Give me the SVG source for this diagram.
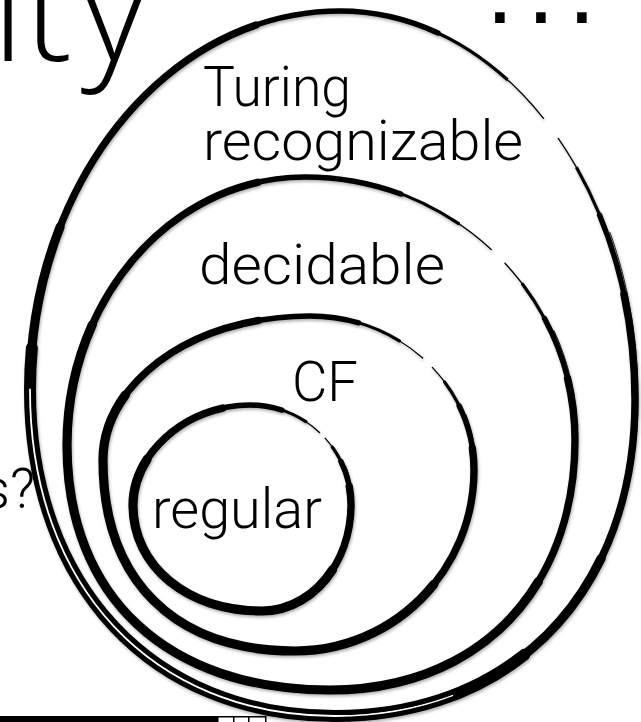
<svg xmlns="http://www.w3.org/2000/svg" width="641" height="722" viewBox="0 0 641 722">
  <style>
    .bg { fill: #ffffff; }
    .title { font-family: "Open Sans", "Liberation Sans", sans-serif; font-weight: 300; font-size: 143px; fill: #000; }
    .dots { font-family: "Liberation Sans", Arial, sans-serif; font-size: 100px; letter-spacing: 13.2px; fill: #000; }
    .lbl { font-family: Roboto, "Liberation Sans", sans-serif; font-weight: 300; font-size: 55px; fill: #000; }
    .loop use { fill: none; stroke: #000; stroke-linecap: round; stroke-linejoin: round; }
    .s1 { stroke-width: 1.3; stroke-dasharray: 98.8 1.2; stroke-dashoffset: -0.8; }
    .s2 { stroke-width: 3.2; stroke-dasharray: 94.5 5.5; stroke-dashoffset: -2.5; }
    .s3 { stroke-width: 5.4; stroke-dasharray: 88 12; stroke-dashoffset: -5; }
    .s4 { stroke-width: 7.4; stroke-dasharray: 75 25; stroke-dashoffset: -9; }
    .s5 { stroke-width: 9.2; stroke-dasharray: 48 52; stroke-dashoffset: -22; }
    .s6 { stroke-width: 12; stroke-dasharray: 36 64; stroke-dashoffset: -28; }
    .loop use.hair { stroke: #fff; stroke-width: 1.8; stroke-dasharray: 30 70; stroke-dashoffset: -32; }
    .loop use.bristle { stroke-width: 1; stroke-dasharray: 80 20; stroke-dashoffset: -6; opacity: 0.85; }
    .bar { fill: #000; }
    .box { fill: #fff; stroke: #000; stroke-width: 1.5; }
  </style>
  <defs>
    <filter id="shadow" x="-10%" y="-10%" width="120%" height="120%">
      <feDropShadow dx="1" dy="2" stdDeviation="1.5" flood-color="#000" flood-opacity="0.3"/>
    </filter>
    <path id="p-outer" pathLength="100" d="M548.6,125 C602,195.4 635,292.6 635,400 C635,589.6 515,716 335,716 C152,716 30,585.6 30,390 C30,180.7 168.8,11 340,11 C421.5,11 495.2,54.6 548.6,125"/>
    <path id="p-decidable" pathLength="100" d="M495.9,254 C544.8,301.6 575,367.4 575,440 C575,590 477,690 330,690 C166.9,690 67,596.9 67,445 C67,297 173.6,177 305,177 C379.6,177 447.1,206.4 495.9,254"/>
    <path id="p-cf" pathLength="100" d="M426,361.1 C455.7,389 474,427.5 474,470 C474,570 393.9,651 295,651 C174,651 103,580.3 103,460 C103,380.5 195.7,316 310,316 C355.3,316 396.3,333.2 426,361.1"/>
    <path id="p-regular" pathLength="100" d="M321.4,434.3 C339.7,452.4 351,477.4 351,505 C351,563.5 311.2,611 262,611 C187.2,611 133,566.5 133,505 C133,452 188,405 250,405 C277.9,405 303.2,416.2 321.4,434.3"/>
  </defs>

  <rect class="bg" x="0" y="0" width="641" height="722"/>

  <!-- slide fragments -->
  <text class="title" x="-8" y="61">it<tspan dx="9">y</tspan></text>
  <text class="dots" x="486" y="23">...</text>
  <text class="lbl" x="-18" y="508">s?</text>
  <g id="footer">
    <rect class="bar" x="0" y="716" width="218" height="6"/>
    <rect class="box" x="217.75" y="716.75" width="16" height="6"/>
    <rect class="box" x="233.75" y="716.75" width="15" height="6"/>
    <rect class="box" x="248.75" y="716.75" width="17" height="6"/>
  </g>

  <g id="connectors"></g>

  <g id="turing-recognizable">
    <g class="loop" filter="url(#shadow)">
      <use href="#p-outer" class="s1"/>
      <use href="#p-outer" class="s2"/>
      <use href="#p-outer" class="s3"/>
      <use href="#p-outer" class="s4"/>
      <use href="#p-outer" class="s5"/>
      <use href="#p-outer" class="s6"/>
      <use href="#p-outer" class="hair"/>
      <use href="#p-outer" class="bristle" transform="translate(3,-2)"/>
    </g>
    <text class="lbl" x="203" y="106" textLength="148" lengthAdjust="spacingAndGlyphs">Turing</text>
    <text class="lbl" x="203" y="160" textLength="320" lengthAdjust="spacingAndGlyphs">recognizable</text>
  </g>

  <g id="decidable">
    <g class="loop" filter="url(#shadow)">
      <use href="#p-decidable" class="s1"/>
      <use href="#p-decidable" class="s2"/>
      <use href="#p-decidable" class="s3"/>
      <use href="#p-decidable" class="s4"/>
      <use href="#p-decidable" class="s5"/>
      <use href="#p-decidable" class="bristle" transform="translate(2.5,-2)"/>
    </g>
    <text class="lbl" x="199" y="284" textLength="246" lengthAdjust="spacingAndGlyphs">decidable</text>
  </g>

  <g id="cf">
    <g class="loop" filter="url(#shadow)">
      <use href="#p-cf" class="s1"/>
      <use href="#p-cf" class="s2"/>
      <use href="#p-cf" class="s3"/>
      <use href="#p-cf" class="s4"/>
      <use href="#p-cf" class="s5"/>
      <use href="#p-cf" class="bristle" transform="translate(2.2,-1.6)"/>
    </g>
    <text class="lbl" x="292" y="401" textLength="66" lengthAdjust="spacingAndGlyphs">CF</text>
  </g>

  <g id="regular">
    <g class="loop" filter="url(#shadow)">
      <use href="#p-regular" class="s1"/>
      <use href="#p-regular" class="s2"/>
      <use href="#p-regular" class="s3"/>
      <use href="#p-regular" class="s4"/>
      <use href="#p-regular" class="s5"/>
      <use href="#p-regular" class="bristle" transform="translate(2,-1.4)"/>
    </g>
    <text class="lbl" x="152" y="528" textLength="170" lengthAdjust="spacingAndGlyphs">regular</text>
  </g>
</svg>
